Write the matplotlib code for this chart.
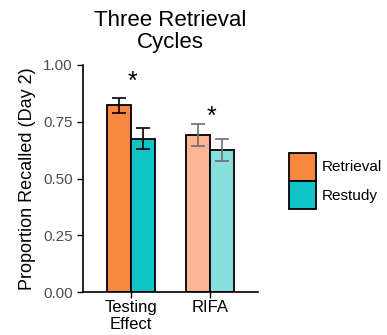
import numpy as np
import matplotlib
matplotlib.use("Agg")
import matplotlib.pyplot as plt
from matplotlib.patches import Patch

plt.rcParams['font.family'] = ['Liberation Sans', 'DejaVu Sans']

# data
groups = ["Testing\nEffect", "RIFA"]
conditions = ["Retrieval", "Restudy"]
retrieval = [0.822, 0.692]
restudy = [0.676, 0.625]
retrieval_se = [0.033, 0.048]
restudy_se = [0.048, 0.048]
star_y = [0.925, 0.77]

orange = "#F8883E"
teal = "#10C4C8"
light_orange = "#FDB596"
light_teal = "#88DFDD"

fig = plt.figure(figsize=(3.87, 3.35), dpi=100)
ax = fig.add_axes([0.2145, 0.128, 0.452, 0.678])

x = np.arange(1, len(groups) + 1)
w = 0.3
fills_ret = [orange, light_orange]
fills_res = [teal, light_teal]
err_cols = ["black", "#6e6e6e"]

for i in range(len(groups)):
    ax.bar(x[i] - w/2, retrieval[i], w, color=fills_ret[i], edgecolor="black", linewidth=1.3, zorder=2)
    ax.bar(x[i] + w/2, restudy[i], w, color=fills_res[i], edgecolor="black", linewidth=1.3, zorder=2)
    ax.errorbar(x[i] - w/2, retrieval[i], yerr=retrieval_se[i], fmt="none", ecolor=err_cols[i], elinewidth=1.2, capsize=5, capthick=1.2, zorder=3)
    ax.errorbar(x[i] + w/2, restudy[i], yerr=restudy_se[i], fmt="none", ecolor=err_cols[i], elinewidth=1.2, capsize=5, capthick=1.2, zorder=3)
    ax.text(x[i] + 0.02, star_y[i], "*", ha="center", va="center", fontsize=18)

ax.set_xlim(0.4, 2.6)
ax.set_ylim(0, 1.0)
ax.set_xticks(x)
ax.set_xticklabels(groups, fontsize=12, color="black", linespacing=1.1)
ax.set_yticks([0, 0.25, 0.5, 0.75, 1.0])
ax.set_yticklabels(["0.00", "0.25", "0.50", "0.75", "1.00"], fontsize=11, color="#4D4D4D")
ax.tick_params(axis="both", length=4, width=1, color="black")
ax.tick_params(axis="x", pad=2)
for s in ["top", "right"]:
    ax.spines[s].set_visible(False)
for s in ["left", "bottom"]:
    ax.spines[s].set_linewidth(1.2)
ax.set_ylabel("Proportion Recalled (Day 2)", fontsize=13, labelpad=5)
ax.set_title("Three Retrieval\nCycles", fontsize=16, linespacing=1.1, pad=12)

handles = [Patch(facecolor=orange, edgecolor="black", linewidth=1.3),
           Patch(facecolor=teal, edgecolor="black", linewidth=1.3)]
fig.legend(handles, conditions, loc="center left", bbox_to_anchor=(0.726, 0.46),
           frameon=False, fontsize=11, handlelength=1.8, handleheight=2.4,
           handletextpad=0.35, labelspacing=0.05, borderpad=0)

fig.savefig("out.png", dpi=100)
